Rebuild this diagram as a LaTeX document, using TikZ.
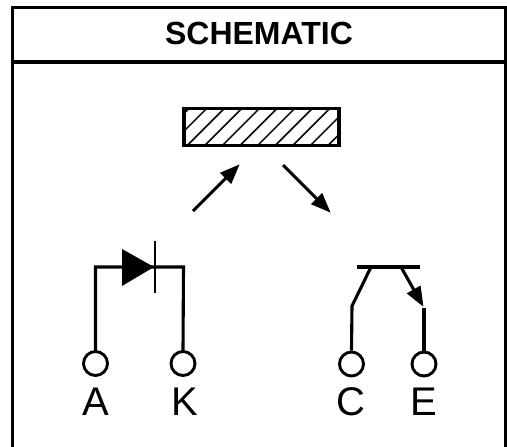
\documentclass[tikz,border=0pt]{standalone}
\usepackage{fontspec}
\setmainfont{Liberation Sans}
\usetikzlibrary{arrows.meta}
\tikzset{
  frameline/.style={line width=3pt,line cap=butt},
  wire/.style={line width=3.1pt,line join=miter},
  terminal/.style={circle,draw,line width=2.9pt,fill=white,minimum size=24pt,inner sep=0pt},
  pinlabel/.style={font=\fontsize{40}{40}\selectfont,inner sep=0pt},
  bigarrow/.style={line width=3.1pt,-{Triangle[length=20pt,width=15pt]},shorten >=-1pt},
  barbox/.style={draw,line width=3.5pt,minimum width=155pt,minimum height=37pt,inner sep=0pt}
}
\begin{document}
\begin{tikzpicture}[x=1pt,y=-1pt]
\useasboundingbox (0,0) rectangle (507,447);
% frame
\coordinate (bl) at (12.5,447);
\coordinate (tl) at (12.5,7.5);
\coordinate (tr) at (505.5,7.5);
\coordinate (br) at (505.5,447);
\coordinate (ml) at (12.5,62);
\coordinate (mr) at (505.5,62);
\draw[frameline] (bl) -- (tl) -- (tr) -- (br);
\draw[line width=3.8pt] (ml) -- (mr);
\node[inner sep=0pt,font=\bfseries\fontsize{32}{32}\selectfont] (title) at (259,33) {SCHEMATIC};
% hatched bar
\node[barbox] (bar) at (261.5,127) {};
\begin{scope}
\clip (bar.south west) rectangle (bar.north east);
\foreach \k in {-2,...,9}
  \draw[line width=1.5pt] ({186.7+17.6*\k},146) -- ({224.7+17.6*\k},108);
\end{scope}
\node[barbox] at (261.5,127) {};
% arrows
\coordinate (a1s) at (193,211);
\coordinate (a1e) at (239,165);
\coordinate (a2s) at (283,165);
\coordinate (a2e) at (330,212);
\draw[bigarrow] (a1s) -- (a1e);
\draw[bigarrow] (a2s) -- (a2e);
% terminals
\node[terminal] (A) at (95.5,363.5) {};
\node[terminal] (K) at (183,363.5) {};
\node[terminal] (C) at (351.5,364) {};
\node[terminal] (E) at (424,364) {};
\node[pinlabel] (lA) at (95.5,402) {A};
\node[pinlabel] (lK) at (184.5,402) {K};
\node[pinlabel] (lC) at (351,402) {C};
\node[pinlabel] (lE) at (424,402) {E};
% diode
\coordinate (dl) at (95.5,267);
\coordinate (dr) at (183.5,267);
\coordinate (dtip) at (154,267);
\coordinate (dbt) at (155,241);
\coordinate (dbb) at (155,293);
\draw[wire] (A.north) -- (dl) -- (dr) -- (K.north);
\fill (122,249) -- (dtip) -- (122,286) -- cycle;
\draw[line width=2.8pt] (dbt) -- (dbb);
% switch
\coordinate (sl) at (357,267);
\coordinate (sr) at (420,267);
\coordinate (s1) at (371,267);
\coordinate (s2) at (352,306);
\coordinate (s3) at (401,267);
\coordinate (s4) at (423,306);
\coordinate (s5) at (424,308);
\draw[wire] (sl) -- (sr);
\draw[wire] (s1) -- (s2) -- (C.north);
\draw[wire,-{Triangle[length=20pt,width=15pt]},shorten >=-1pt] (s3) -- (s4);
\draw[wire] (s5) -- (E.north);
\end{tikzpicture}
\end{document}
